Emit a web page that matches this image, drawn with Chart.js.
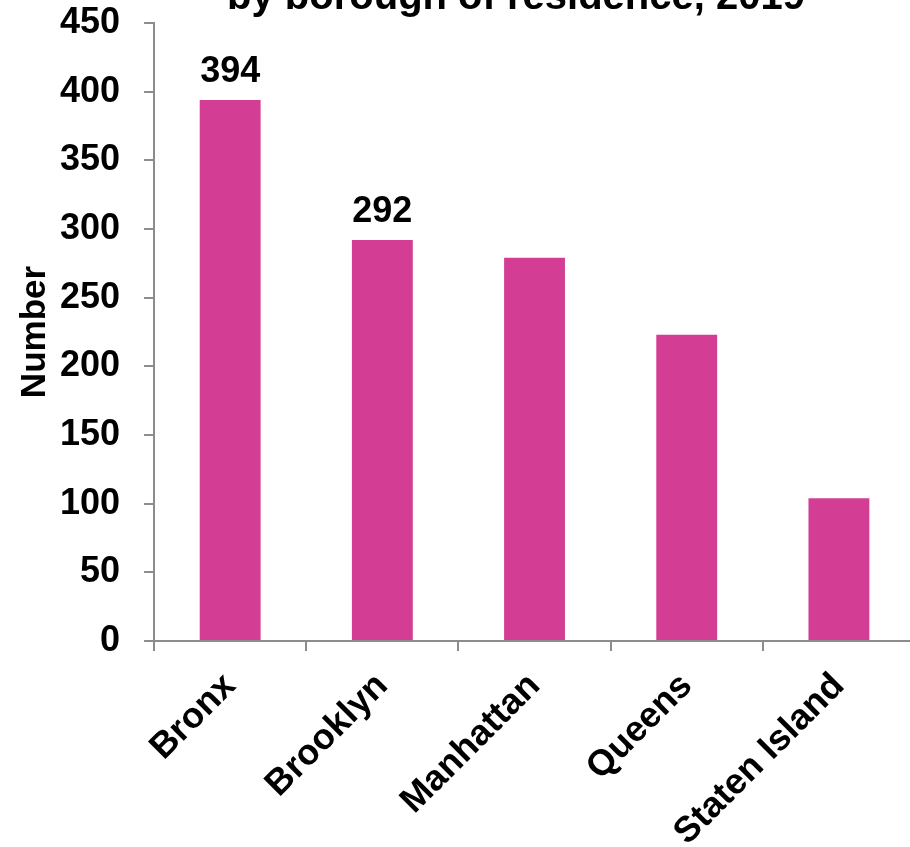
<!DOCTYPE html>
<html>
<head>
<meta charset="utf-8">
<script src="https://cdn.jsdelivr.net/npm/chart.js@4"></script>
<style>
  html, body { margin: 0; padding: 0; background: #fff; overflow: hidden; }
  #wrap { width: 925px; height: 876px; position: relative; }
</style>
</head>
<body>
<div id="wrap"><canvas id="myChart"></canvas></div>
<script>
var boroughs = ['Bronx', 'Brooklyn', 'Manhattan', 'Queens', 'Staten Island'];
var counts = [394, 292, 279, 223, 104];
var labelled = [true, true, false, false, false];
var yTicks = [0, 50, 100, 150, 200, 250, 300, 350, 400, 450];
var chartTitle = 'by borough of residence, 2019';

var FONT = '"Liberation Sans", Arial, sans-serif';
var GRAY = '#8c8c8c';
var Y_PAD = 24;

// value labels above the first bars + the clipped title line
var extras = {
    id: 'extras',
    afterDatasetsDraw: function (chart) {
        var ctx = chart.ctx;
        var meta = chart.getDatasetMeta(0);
        ctx.save();
        ctx.fillStyle = '#000';
        ctx.font = 'bold 36px ' + FONT;
        ctx.textAlign = 'center';
        ctx.textBaseline = 'alphabetic';
        meta.data.forEach(function (bar, i) {
            if (labelled[i]) ctx.fillText(counts[i], bar.x, bar.y - 18);
        });
        ctx.font = 'bold 40px ' + FONT;
        ctx.fillText(chartTitle, 516, 9);
        ctx.restore();
    }
};

var ctx = document.getElementById('myChart').getContext('2d');
var myChart = new Chart(ctx, {
    type: 'bar',
    data: {
        labels: boroughs,
        datasets: [{
            label: 'Number',
            data: counts,
            backgroundColor: '#d33e94',
            barPercentage: 0.4,
            categoryPercentage: 1.0
        }]
    },
    options: {
        responsive: true,
        maintainAspectRatio: false,
        animation: false,
        layout: { padding: { top: 23, left: 14, right: 10, bottom: 8 } },
        plugins: {
            legend: { display: false },
            tooltip: { enabled: false },
            title: { display: false }
        },
        scales: {
            x: {
                afterFit: function (scale) {
                    scale.paddingLeft = 0;
                    scale.paddingRight = 0;
                },
                grid: {
                    offset: true,
                    drawOnChartArea: false,
                    drawTicks: true,
                    tickLength: 10,
                    color: GRAY,
                    lineWidth: 2
                },
                border: { display: true, color: GRAY, width: 2 },
                ticks: {
                    color: '#000',
                    font: { family: FONT, size: 36, weight: 'bold' },
                    maxRotation: 45,
                    minRotation: 45,
                    padding: 14
                }
            },
            y: {
                min: 0,
                max: 450,
                afterBuildTicks: function (axis) {
                    axis.ticks = yTicks.map(function (v) { return { value: v }; });
                },
                afterFit: function (scale) {
                    scale.paddingTop = 0;
                    scale.paddingBottom = 0;
                    scale.width -= Y_PAD; // chart.js counts tick padding twice
                },
                grid: {
                    drawOnChartArea: false,
                    drawTicks: true,
                    tickLength: 10,
                    color: GRAY,
                    lineWidth: 2
                },
                border: { display: true, color: GRAY, width: 2 },
                ticks: {
                    color: '#000',
                    font: { family: FONT, size: 36, weight: 'bold' },
                    padding: Y_PAD
                },
                title: {
                    display: true,
                    text: 'Number',
                    color: '#000',
                    font: { family: FONT, size: 35, weight: 'bold' },
                    padding: { top: 0, bottom: 4 }
                }
            }
        }
    },
    plugins: [extras]
});
</script>
</body>
</html>
